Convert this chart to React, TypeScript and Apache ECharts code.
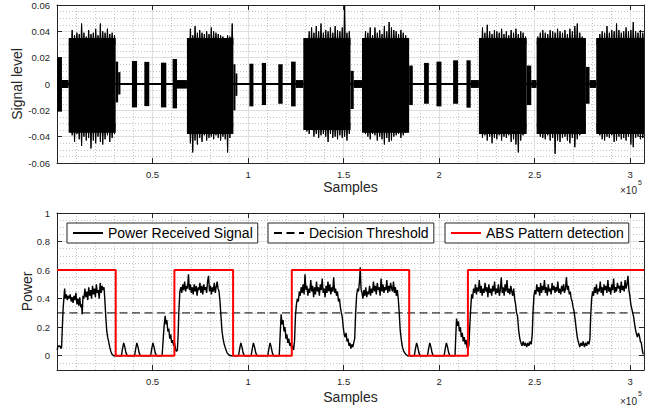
import React, { useEffect, useRef } from 'react';
import * as echarts from 'echarts';

// ---------- data (x in thousands of samples) ----------
const SUBFRAME = 30720;
const X_MAX = 307200;
const absPattern = [0.6, 0, 0.6, 0, 0.6, 0.6, 0, 0.6, 0.6, 0.6];
const threshold = 0.3;

// signal envelope blocks: [x0, x1, top, bottom]
const sigBlocks: [number, number, number, number][] = [
  [0, 307.2, 0.0008, -0.0008],
  [0, 2.6, 0.02, -0.021],
  [2.6, 6.1, 0.003, -0.003],
  [6.1, 30.7, 0.035, -0.037],
  [30.7, 32.0, 0.017, -0.014],
  [32.0, 33.2, 0.009, -0.008],
  [39.2, 41.9, 0.0175, -0.0178],
  [45.7, 48.3, 0.0168, -0.0168],
  [54.4, 57.2, 0.0162, -0.0178],
  [60.5, 62.8, 0.019, -0.0185],
  [62.8, 68.0, 0.003, -0.0035],
  [68.0, 92.3, 0.035, -0.038],
  [92.3, 93.4, 0.015, -0.02],
  [93.4, 94.4, 0.008, -0.009],
  [100.7, 102.8, 0.0154, -0.017],
  [107.2, 109.4, 0.016, -0.016],
  [115.8, 118.1, 0.015, -0.015],
  [122.5, 124.9, 0.017, -0.017],
  [124.9, 128.9, 0.003, -0.003],
  [128.9, 153.6, 0.035, -0.035],
  [153.6, 155.3, 0.01, -0.019],
  [155.3, 159.6, 0.003, -0.003],
  [159.6, 184.3, 0.035, -0.037],
  [184.3, 186.2, 0.014, -0.016],
  [192.1, 194.6, 0.016, -0.015],
  [198.6, 201.2, 0.017, -0.017],
  [207.3, 209.9, 0.018, -0.015],
  [214.3, 216.5, 0.018, -0.018],
  [216.5, 220.8, 0.003, -0.003],
  [220.8, 245.8, 0.035, -0.038],
  [245.8, 248.2, 0.014, -0.016],
  [248.2, 251.0, 0.003, -0.003],
  [251.0, 276.8, 0.035, -0.038],
  [276.8, 278.7, 0.013, -0.015],
  [278.7, 282.2, 0.003, -0.003],
  [282.2, 307.2, 0.035, -0.038],
];

// data bursts and their peak envelopes
const burstSpans: [number, number][] = [
  [6.1, 30.7], [68.0, 92.3], [128.9, 153.6], [159.6, 184.3],
  [220.8, 245.8], [251.0, 276.8], [282.2, 307.2],
];
const burstTop: number[][] = [
  [0.032, 0.041, 0.037, 0.039, 0.038, 0.046, 0.039, 0.036, 0.041, 0.038, 0.039, 0.042, 0.037, 0.046, 0.040, 0.039, 0.042, 0.038, 0.039, 0.037],
  [0.034, 0.042, 0.037, 0.044, 0.039, 0.041, 0.039, 0.038, 0.040, 0.038, 0.043, 0.040, 0.039, 0.038, 0.037, 0.036, 0.035, 0.037, 0.036, 0.046],
  [0.031, 0.035, 0.040, 0.043, 0.039, 0.044, 0.040, 0.046, 0.039, 0.041, 0.040, 0.043, 0.039, 0.044, 0.041, 0.040, 0.043, 0.062, 0.039, 0.040],
  [0.034, 0.040, 0.039, 0.043, 0.037, 0.043, 0.039, 0.041, 0.038, 0.044, 0.040, 0.047, 0.043, 0.041, 0.040, 0.038, 0.041, 0.039, 0.037, 0.035],
  [0.034, 0.043, 0.039, 0.045, 0.040, 0.038, 0.041, 0.040, 0.039, 0.042, 0.038, 0.040, 0.037, 0.041, 0.039, 0.042, 0.038, 0.040, 0.039, 0.036],
  [0.036, 0.039, 0.041, 0.039, 0.038, 0.041, 0.040, 0.039, 0.042, 0.040, 0.039, 0.041, 0.038, 0.042, 0.040, 0.044, 0.046, 0.039, 0.036, 0.034],
  [0.035, 0.038, 0.040, 0.039, 0.044, 0.039, 0.041, 0.040, 0.046, 0.041, 0.039, 0.040, 0.043, 0.040, 0.041, 0.047, 0.040, 0.039, 0.041, 0.039],
];
const burstBottom: number[][] = [
  [-0.034, -0.039, -0.044, -0.038, -0.042, -0.047, -0.040, -0.043, -0.041, -0.049, -0.043, -0.045, -0.040, -0.044, -0.046, -0.042, -0.039, -0.044, -0.041, -0.038],
  [-0.036, -0.045, -0.052, -0.043, -0.046, -0.041, -0.044, -0.039, -0.043, -0.041, -0.040, -0.042, -0.039, -0.041, -0.043, -0.040, -0.042, -0.052, -0.041, -0.037],
  [-0.030, -0.036, -0.038, -0.035, -0.040, -0.038, -0.041, -0.039, -0.038, -0.040, -0.044, -0.038, -0.041, -0.040, -0.042, -0.039, -0.041, -0.040, -0.043, -0.038],
  [-0.033, -0.038, -0.040, -0.042, -0.038, -0.039, -0.043, -0.040, -0.042, -0.046, -0.041, -0.044, -0.043, -0.040, -0.039, -0.038, -0.041, -0.039, -0.037, -0.036],
  [-0.036, -0.041, -0.039, -0.043, -0.040, -0.045, -0.041, -0.042, -0.039, -0.043, -0.040, -0.041, -0.039, -0.044, -0.042, -0.046, -0.052, -0.043, -0.039, -0.035],
  [-0.036, -0.040, -0.041, -0.042, -0.039, -0.043, -0.041, -0.053, -0.043, -0.044, -0.041, -0.040, -0.043, -0.045, -0.041, -0.048, -0.042, -0.039, -0.038, -0.035],
  [-0.036, -0.039, -0.042, -0.043, -0.040, -0.041, -0.039, -0.044, -0.043, -0.040, -0.042, -0.041, -0.043, -0.040, -0.046, -0.048, -0.041, -0.040, -0.042, -0.041],
];

// received power: [x (thousand samples), power]
const powerPts: [number, number][] = [
  [0.1, 0.04], [0.5, 0.07], [1.0, 0.065], [1.5, 0.07], [2.0, 0.05], [2.4, 0.06], [2.8, 0.2], [3.2, 0.33], [3.6, 0.4], [4.0, 0.47],
  [4.4, 0.4], [4.9, 0.43], [5.4, 0.39], [5.9, 0.42], [6.4, 0.4], [6.9, 0.43], [7.4, 0.38], [7.9, 0.41], [8.4, 0.37], [8.9, 0.42],
  [9.4, 0.39], [9.9, 0.44], [10.4, 0.36], [10.9, 0.4], [11.4, 0.35], [11.9, 0.41], [12.4, 0.34], [12.9, 0.36], [13.2, 0.29], [13.6, 0.42],
  [14.1, 0.4], [14.6, 0.47], [15.1, 0.41], [15.6, 0.45], [16.1, 0.39], [16.6, 0.48], [17.1, 0.42], [17.6, 0.46], [18.1, 0.4], [18.6, 0.49],
  [19.1, 0.43], [19.6, 0.47], [20.1, 0.41], [20.6, 0.5], [21.1, 0.44], [21.6, 0.46], [22.1, 0.4], [22.6, 0.51], [23.1, 0.44], [23.6, 0.49],
  [24.1, 0.46], [24.6, 0.48], [25.0, 0.4], [25.5, 0.28], [26.0, 0.18], [26.5, 0.13], [27.0, 0.1], [27.6, 0.06], [28.2, 0.03], [28.8, 0.01],
  [29.6, 0.0], [33.7, 0.0], [34.3, 0.05], [34.9, 0.09], [35.5, 0.06], [36.1, 0.02], [36.8, 0.0],
  [40.6, 0.0], [41.2, 0.05], [41.8, 0.09], [42.4, 0.06], [43.0, 0.02], [43.7, 0.0],
  [49.0, 0.0], [49.6, 0.05], [50.2, 0.09], [50.8, 0.06], [51.4, 0.02], [52.1, 0.0],
  [55.0, 0.0], [55.5, 0.1], [56.0, 0.2], [56.6, 0.28], [57.1, 0.22], [57.5, 0.25], [58.0, 0.17], [58.5, 0.19], [59.0, 0.12], [59.5, 0.15],
  [60.0, 0.09], [60.5, 0.11], [61.0, 0.07], [61.5, 0.09], [62.0, 0.05], [62.5, 0.03], [63.0, 0.04], [63.4, 0.15], [63.8, 0.32], [64.3, 0.45],
  [64.8, 0.48], [65.3, 0.44], [65.8, 0.5], [66.3, 0.46], [66.8, 0.52], [67.3, 0.45], [67.8, 0.49], [68.3, 0.47], [68.8, 0.57], [69.3, 0.46],
  [69.8, 0.5], [70.3, 0.44], [70.8, 0.48], [71.3, 0.43], [71.8, 0.5], [72.3, 0.45], [72.8, 0.49], [73.3, 0.42], [73.8, 0.48], [74.3, 0.46],
  [74.8, 0.51], [75.3, 0.44], [75.8, 0.49], [76.3, 0.43], [76.8, 0.5], [77.3, 0.46], [77.8, 0.48], [78.3, 0.44], [78.8, 0.52], [79.3, 0.56],
  [79.8, 0.45], [80.3, 0.49], [80.8, 0.43], [81.3, 0.48], [81.8, 0.45], [82.3, 0.51], [82.8, 0.44], [83.3, 0.48], [83.8, 0.52], [84.3, 0.47],
  [84.8, 0.45], [85.3, 0.38], [85.8, 0.28], [86.3, 0.18], [86.9, 0.12], [87.5, 0.08], [88.2, 0.05], [89.0, 0.02], [90.0, 0.005], [91.0, 0.0],
  [95.0, 0.0], [95.6, 0.05], [96.2, 0.09], [96.8, 0.06], [97.4, 0.02], [98.1, 0.0],
  [101.6, 0.0], [102.2, 0.05], [102.8, 0.09], [103.4, 0.06], [104.0, 0.02], [104.7, 0.0],
  [110.3, 0.0], [110.9, 0.05], [111.5, 0.09], [112.1, 0.06], [112.7, 0.02], [113.4, 0.0],
  [116.3, 0.0], [116.8, 0.15], [117.3, 0.29], [117.8, 0.22], [118.3, 0.25], [118.8, 0.17], [119.3, 0.2], [119.8, 0.12], [120.3, 0.15], [120.8, 0.09],
  [121.3, 0.12], [121.8, 0.07], [122.3, 0.09], [122.8, 0.05], [123.3, 0.07], [123.8, 0.04], [124.3, 0.1], [124.8, 0.28], [125.3, 0.36], [125.8, 0.4],
  [126.3, 0.38], [126.8, 0.45], [127.3, 0.42], [127.8, 0.48], [128.3, 0.44], [128.8, 0.5], [129.3, 0.43], [129.8, 0.57], [130.3, 0.46], [130.8, 0.49],
  [131.3, 0.42], [131.8, 0.47], [132.3, 0.44], [132.8, 0.53], [133.3, 0.45], [133.8, 0.49], [134.3, 0.41], [134.8, 0.48], [135.3, 0.43], [135.8, 0.52],
  [136.3, 0.45], [136.8, 0.48], [137.3, 0.42], [137.8, 0.5], [138.3, 0.46], [138.8, 0.54], [139.3, 0.44], [139.8, 0.47], [140.3, 0.41], [140.8, 0.49],
  [141.3, 0.44], [141.8, 0.52], [142.3, 0.45], [142.8, 0.5], [143.3, 0.43], [143.8, 0.48], [144.3, 0.45], [144.8, 0.55], [145.3, 0.44], [145.8, 0.47],
  [146.3, 0.42], [146.8, 0.45], [147.3, 0.38], [147.8, 0.4], [148.3, 0.34], [148.8, 0.3], [149.3, 0.27], [149.8, 0.2], [150.3, 0.15], [150.8, 0.13],
  [151.3, 0.16], [151.8, 0.1], [152.3, 0.12], [152.8, 0.07], [153.3, 0.09], [153.8, 0.05], [154.3, 0.08], [154.8, 0.06], [155.3, 0.09], [155.8, 0.12],
  [156.3, 0.3], [156.8, 0.42], [157.3, 0.47], [157.8, 0.45], [158.3, 0.52], [158.7, 0.62], [159.1, 0.47], [159.6, 0.44], [160.1, 0.4], [160.6, 0.46],
  [161.1, 0.42], [161.6, 0.48], [162.1, 0.41], [162.6, 0.45], [163.1, 0.43], [163.6, 0.49], [164.1, 0.42], [164.6, 0.47], [165.1, 0.44], [165.6, 0.52],
  [166.1, 0.45], [166.6, 0.49], [167.1, 0.43], [167.6, 0.51], [168.1, 0.46], [168.6, 0.48], [169.1, 0.42], [169.6, 0.54], [170.1, 0.45], [170.6, 0.5],
  [171.1, 0.44], [171.6, 0.48], [172.1, 0.46], [172.6, 0.53], [173.1, 0.44], [173.6, 0.49], [174.1, 0.45], [174.6, 0.51], [175.1, 0.47], [175.6, 0.45],
  [176.1, 0.52], [176.6, 0.44], [177.1, 0.48], [177.6, 0.42], [178.1, 0.46], [178.6, 0.4], [179.1, 0.3], [179.6, 0.18], [180.2, 0.11], [180.8, 0.06],
  [181.5, 0.03], [182.5, 0.01], [183.5, 0.0],
  [187.0, 0.0], [187.6, 0.05], [188.2, 0.09], [188.8, 0.06], [189.4, 0.02], [190.1, 0.0],
  [193.9, 0.0], [194.5, 0.05], [195.1, 0.09], [195.7, 0.06], [196.3, 0.02], [197.0, 0.0],
  [202.6, 0.0], [203.2, 0.05], [203.8, 0.09], [204.4, 0.06], [205.0, 0.02], [205.7, 0.0],
  [208.3, 0.0], [208.7, 0.14], [209.1, 0.26], [209.6, 0.21], [210.1, 0.24], [210.6, 0.17], [211.1, 0.2], [211.6, 0.13], [212.1, 0.16], [212.6, 0.1],
  [213.1, 0.13], [213.6, 0.08], [214.1, 0.11], [214.6, 0.06], [215.1, 0.04], [215.6, 0.08], [216.0, 0.2], [216.5, 0.33], [217.0, 0.43], [217.5, 0.4],
  [218.0, 0.47], [218.5, 0.44], [219.0, 0.5], [219.5, 0.43], [220.0, 0.48], [220.5, 0.45], [221.0, 0.53], [221.5, 0.44], [222.0, 0.49], [222.5, 0.42],
  [223.0, 0.47], [223.5, 0.44], [224.0, 0.51], [224.5, 0.45], [225.0, 0.48], [225.5, 0.41], [226.0, 0.5], [226.5, 0.44], [227.0, 0.47], [227.5, 0.42],
  [228.0, 0.49], [228.5, 0.45], [229.0, 0.52], [229.5, 0.43], [230.0, 0.47], [230.5, 0.44], [231.0, 0.5], [231.5, 0.42], [232.0, 0.46], [232.5, 0.55],
  [233.0, 0.44], [233.5, 0.48], [234.0, 0.42], [234.5, 0.5], [235.0, 0.45], [235.5, 0.53], [236.0, 0.44], [236.5, 0.47], [237.0, 0.43], [237.5, 0.49],
  [238.0, 0.45], [238.5, 0.42], [239.0, 0.47], [239.5, 0.4], [240.0, 0.36], [240.5, 0.3], [241.0, 0.28], [241.6, 0.18], [242.2, 0.12], [242.8, 0.09],
  [243.4, 0.07], [244.0, 0.1], [244.6, 0.07], [245.2, 0.09], [245.8, 0.06], [246.4, 0.09], [247.0, 0.07], [247.6, 0.1], [248.2, 0.08], [248.7, 0.15],
  [249.1, 0.3], [249.6, 0.42], [250.1, 0.46], [250.6, 0.43], [251.1, 0.5], [251.6, 0.45], [252.1, 0.48], [252.6, 0.42], [253.1, 0.51], [253.6, 0.44],
  [254.1, 0.49], [254.6, 0.46], [255.1, 0.53], [255.6, 0.44], [256.1, 0.48], [256.6, 0.42], [257.1, 0.5], [257.6, 0.45], [258.1, 0.47], [258.6, 0.43],
  [259.1, 0.51], [259.6, 0.46], [260.1, 0.49], [260.6, 0.44], [261.1, 0.48], [261.6, 0.45], [262.1, 0.52], [262.6, 0.44], [263.1, 0.47], [263.6, 0.43],
  [264.1, 0.49], [264.6, 0.45], [265.1, 0.5], [265.6, 0.44], [266.1, 0.47], [266.6, 0.55], [267.1, 0.46], [267.6, 0.49], [268.1, 0.43], [268.6, 0.45],
  [269.1, 0.4], [269.6, 0.38], [270.1, 0.34], [270.6, 0.31], [271.2, 0.25], [271.8, 0.18], [272.4, 0.12], [273.0, 0.09], [273.6, 0.06], [274.2, 0.09],
  [274.8, 0.07], [275.4, 0.1], [276.0, 0.06], [276.6, 0.09], [277.2, 0.07], [277.8, 0.1], [278.4, 0.08], [278.9, 0.12], [279.3, 0.28], [279.8, 0.4],
  [280.3, 0.45], [280.8, 0.42], [281.3, 0.48], [281.8, 0.44], [282.3, 0.5], [282.8, 0.43], [283.3, 0.47], [283.8, 0.45], [284.3, 0.52], [284.8, 0.44],
  [285.3, 0.48], [285.8, 0.42], [286.3, 0.5], [286.8, 0.46], [287.3, 0.49], [287.8, 0.44], [288.3, 0.53], [288.8, 0.45], [289.3, 0.48], [289.8, 0.43],
  [290.3, 0.5], [290.8, 0.46], [291.3, 0.54], [291.8, 0.44], [292.3, 0.48], [292.8, 0.45], [293.3, 0.51], [293.8, 0.47], [294.3, 0.49], [294.8, 0.44],
  [295.3, 0.52], [295.8, 0.46], [296.3, 0.49], [296.8, 0.45], [297.3, 0.53], [297.8, 0.47], [298.3, 0.5], [298.8, 0.56], [299.3, 0.46], [299.8, 0.42],
  [300.3, 0.36], [300.8, 0.33], [301.3, 0.3], [301.8, 0.27], [302.3, 0.22], [302.8, 0.18], [303.3, 0.15], [303.8, 0.13], [304.3, 0.16], [304.8, 0.14],
  [305.3, 0.1], [305.8, 0.09], [306.3, 0.04], [306.8, 0.01],
];

const seriesNames = ['Power Received Signal', 'Decision Threshold', 'ABS Pattern detection'];

// ---------- styling ----------
const FONT = '"Liberation Sans", Arial, Helvetica, sans-serif';
const AXIS = '#262626';
const GRID_MAJOR = '#dfdfdf';
const GRID_MINOR = '#c4c4c4';

function xAxes(gridIndex: number, nameGap: number) {
  const base = {
    type: 'value', gridIndex, min: 0, max: X_MAX, interval: 50000,
    axisLine: { show: true, onZero: false, lineStyle: { color: AXIS, width: 1 } },
    axisTick: { show: true, inside: true, length: 5, lineStyle: { color: AXIS } },
    minorTick: { show: false, splitNumber: 5 },
  };
  return [
    {
      ...base,
      position: 'bottom',
      axisLabel: {
        showMinLabel: false, showMaxLabel: false, fontSize: 9.5, color: AXIS, fontFamily: FONT, margin: 6,
        formatter: (v: number) => String(+(v / 1e5).toFixed(2)),
      },
      splitLine: { show: true, lineStyle: { color: GRID_MAJOR, width: 1 } },
      minorSplitLine: { show: true, lineStyle: { color: GRID_MINOR, width: 1, type: [1, 2] } },
      name: 'Samples', nameLocation: 'middle', nameGap, nameMoveOverlap: false,
      nameTextStyle: { fontSize: 14, color: AXIS, fontFamily: FONT },
    },
    { ...base, position: 'top', axisLabel: { show: false }, splitLine: { show: false } },
  ];
}

function yAxes(gridIndex: number, cfg: any, name: string, nameGap: number) {
  const base = {
    type: 'value', gridIndex, ...cfg,
    axisLine: { show: true, onZero: false, lineStyle: { color: AXIS, width: 1 } },
    axisTick: { show: true, inside: true, length: 5, lineStyle: { color: AXIS } },
    minorTick: { show: false, splitNumber: 4 },
  };
  return [
    {
      ...base,
      position: 'left',
      axisLabel: { showMinLabel: cfg.showMin !== false, fontSize: 9.5, color: AXIS, fontFamily: FONT, margin: 7 },
      splitLine: { show: true, lineStyle: { color: GRID_MAJOR, width: 1 } },
      minorSplitLine: { show: true, lineStyle: { color: GRID_MINOR, width: 1, type: [1, 2] } },
      name, nameLocation: 'middle', nameGap, nameMoveOverlap: false,
      nameTextStyle: { fontSize: 14, color: AXIS, fontFamily: FONT },
    },
    { ...base, position: 'right', axisLabel: { show: false }, splitLine: { show: false } },
  ];
}

function legendBox(name: string, left: number) {
  return {
    data: [name], left, top: 223, orient: 'horizontal', selectedMode: false,
    itemWidth: 30, itemHeight: 12, padding: [3, 5, 3, 5],
    borderColor: AXIS, borderWidth: 1, backgroundColor: '#fff',
    itemStyle: { opacity: 0 },
    textStyle: { fontSize: 14, color: '#000', fontFamily: FONT },
  };
}

export default function App() {
  const ref = useRef<HTMLDivElement>(null);
  useEffect(() => {
    document.body.style.margin = '0';
    if (!ref.current) return;
    const chart = echarts.init(ref.current, null, { renderer: 'svg' });

    const blockData = sigBlocks.map(b => [b[0] * 1000, b[1] * 1000, b[2], b[3]]);
    // peaks: [x, peak value, half width, base level]
    const spikeData: number[][] = [];
    burstSpans.forEach((span, i) => {
      const n = burstTop[i].length;
      const step = (span[1] - span[0]) / n;
      for (let j = 0; j < n; j++) {
        const x = (span[0] + (j + 0.5) * step) * 1000;
        spikeData.push([x, burstTop[i][j], step * 500, 0.03]);
        spikeData.push([x, burstBottom[i][j], step * 500, -0.03]);
      }
    });
    const powerData = powerPts.map(p => [p[0] * 1000, p[1]]);
    const absData = absPattern.map((v, i) => [i * SUBFRAME, v]);
    absData.push([X_MAX, absPattern[absPattern.length - 1]]);

    const option: any = {
      animation: false,
      backgroundColor: '#fff',
      grid: [
        { left: 57, right: 13, top: 5, height: 158 },
        { left: 57, right: 13, top: 213, height: 157 },
      ],
      xAxis: [...xAxes(0, 17), ...xAxes(1, 20)],
      yAxis: [
        ...yAxes(0, { min: -0.06, max: 0.06, interval: 0.02 }, 'Signal level', 33),
        ...yAxes(1, { min: -0.1, max: 1, splitNumber: 5, showMin: false }, 'Power', 23),
      ],
      legend: [
        legendBox(seriesNames[0], 67),
        legendBox(seriesNames[1], 268),
        legendBox(seriesNames[2], 445),
      ],
      graphic: [
        { type: 'text', x: 620, y: 185, style: { text: '×10', fontSize: 10, fill: AXIS, fontFamily: FONT } },
        { type: 'text', x: 638, y: 179, style: { text: '5', fontSize: 7, fill: AXIS, fontFamily: FONT } },
        { type: 'text', x: 620, y: 396, style: { text: '×10', fontSize: 10, fill: AXIS, fontFamily: FONT } },
        { type: 'text', x: 638, y: 390, style: { text: '5', fontSize: 7, fill: AXIS, fontFamily: FONT } },
      ],
      series: [
        {
          type: 'custom', name: 'signal-body', xAxisIndex: 0, yAxisIndex: 0, clip: true,
          encode: { x: [0, 1], y: [2, 3] },
          data: blockData,
          renderItem: (params: any, api: any) => {
            const p0 = api.coord([api.value(0), api.value(2)]);
            const p1 = api.coord([api.value(1), api.value(3)]);
            return {
              type: 'rect',
              shape: { x: p0[0], y: p0[1], width: Math.max(p1[0] - p0[0], 0.6), height: p1[1] - p0[1] },
              style: { fill: '#000' },
            };
          },
          z: 3,
        },
        {
          type: 'custom', name: 'signal-peaks', xAxisIndex: 0, yAxisIndex: 0, clip: true,
          encode: { x: 0, y: 1 },
          data: spikeData,
          renderItem: (params: any, api: any) => {
            const x = api.value(0), v = api.value(1), hw = api.value(2), base = api.value(3);
            const a = api.coord([x - hw, base]);
            const b = api.coord([x, v]);
            const c = api.coord([x + hw, base]);
            const b0 = api.coord([x, base]);
            return {
              type: 'group',
              children: [
                { type: 'polygon', shape: { points: [a, [b[0] - 0.5, b[1]], [b[0] + 0.5, b[1]], c] }, style: { fill: '#000' } },
                { type: 'line', shape: { x1: b0[0], y1: b0[1], x2: b[0], y2: b[1] }, style: { stroke: '#000', lineWidth: 1 } },
              ],
            };
          },
          z: 3,
        },
        {
          type: 'line', name: seriesNames[0], xAxisIndex: 2, yAxisIndex: 2,
          data: powerData, symbol: 'none', showSymbol: false,
          lineStyle: { color: '#000', width: 1.4 }, itemStyle: { color: '#000', opacity: 0 }, z: 3,
        },
        {
          type: 'line', name: seriesNames[1], xAxisIndex: 2, yAxisIndex: 2,
          data: [[0, threshold], [X_MAX, threshold]], symbol: 'none', showSymbol: false,
          lineStyle: { color: '#000', width: 1, type: [8, 4.5] }, itemStyle: { color: '#000', opacity: 0 }, z: 4,
        },
        {
          type: 'line', name: seriesNames[2], xAxisIndex: 2, yAxisIndex: 2, step: 'end',
          data: absData, symbol: 'none', showSymbol: false,
          lineStyle: { color: '#ff0000', width: 2 }, itemStyle: { color: '#ff0000', opacity: 0 }, z: 5,
        },
      ],
    };
    chart.setOption(option);
    return () => chart.dispose();
  }, []);
  return <div ref={ref} style={{ width: 657, height: 413 }} />;
}
